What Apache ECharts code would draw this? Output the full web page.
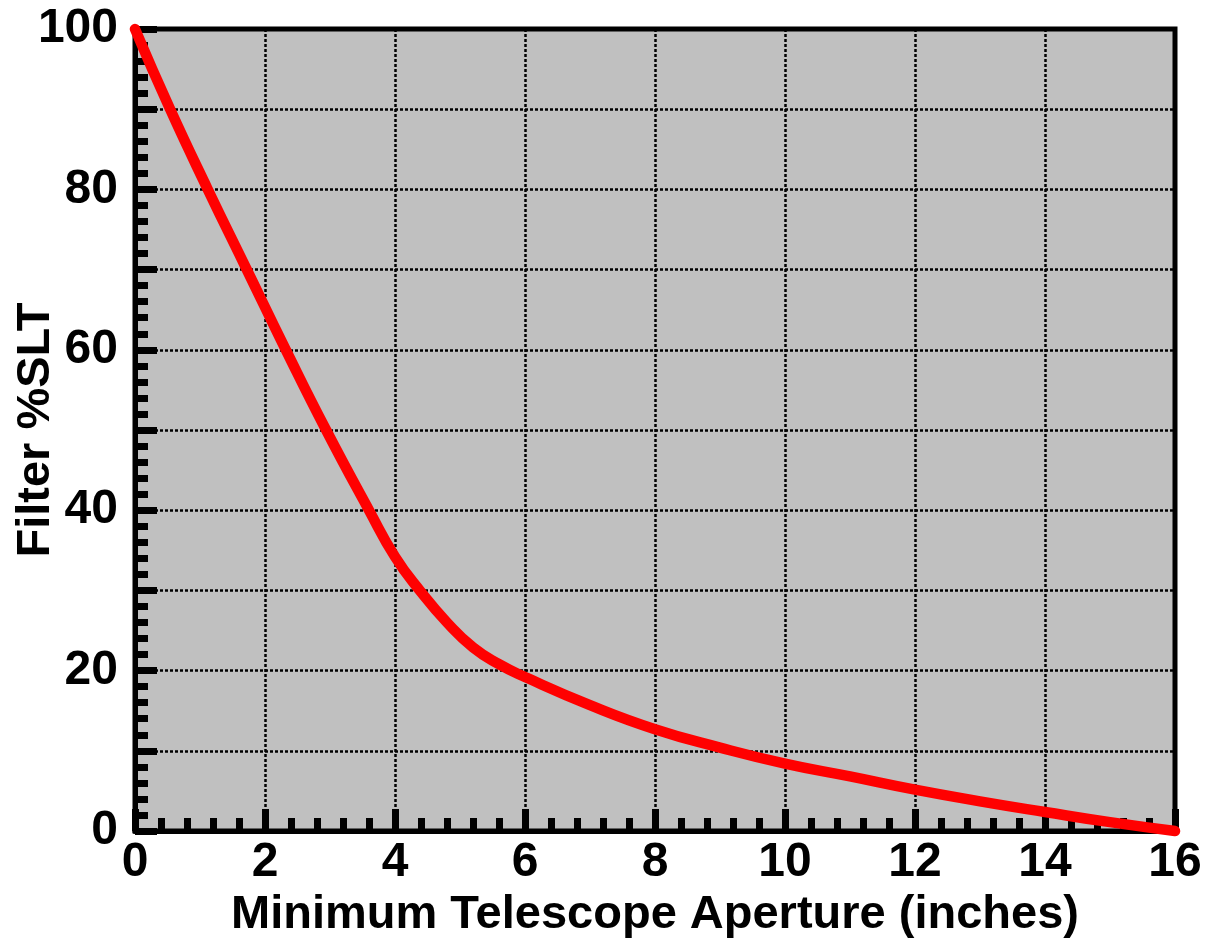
<!DOCTYPE html>
<html>
<head>
<meta charset="utf-8">
<script src="https://cdn.jsdelivr.net/npm/echarts@6/dist/echarts.min.js"></script>
<style>
html,body{margin:0;padding:0;background:#fff;}
#chart{width:1214px;height:940px;}
</style>
</head>
<body>
<div id="chart"></div>
<script>
// Data
const apertureInches = [0, 0.54, 1.12, 1.72, 2.32, 2.94, 3.6, 4.0, 4.4, 4.8, 5.2, 5.6, 6, 7, 8, 9, 10, 11, 12, 13, 14, 15, 16];
const filterSLT = [100, 90, 80, 70, 60, 50, 40, 34.2, 29.8, 26.0, 22.9, 20.8, 19.2, 15.7, 12.7, 10.4, 8.4, 6.8, 5.15, 3.7, 2.37, 1.1, 0];
const xAxisTitle = 'Minimum Telescope Aperture (inches)';
const yAxisTitle = 'Filter %SLT';

const seriesData = apertureInches.map((x, i) => [x, filterSLT[i]]);

const fontFamily = '"Liberation Sans", Arial, sans-serif';
const gridLine = { show: true, lineStyle: { color: '#000', width: 2.5, type: [3, 2] } };
const majorTick = { show: true, inside: true, length: 22, lineStyle: { color: '#000', width: 7 } };
const minorTick = { show: true, splitNumber: 5, length: 13, lineStyle: { color: '#000', width: 7 } };

const chart = echarts.init(document.getElementById('chart'), null, { renderer: 'canvas' });
chart.setOption({
  animation: false,
  backgroundColor: '#ffffff',
  grid: {
    left: 135, right: 39, top: 29, bottom: 109,
    containLabel: false, outerBoundsMode: 'none',
    show: true, backgroundColor: '#c0c0c0', borderColor: '#000', borderWidth: 5
  },
  xAxis: {
    type: 'value', min: 0, max: 16, interval: 2,
    name: xAxisTitle, nameLocation: 'middle', nameGap: 56,
    nameTextStyle: { fontFamily, fontWeight: 'bold', fontSize: 47, color: '#000' },
    axisLine: { show: true, onZero: false, lineStyle: { color: '#000', width: 5 } },
    axisTick: majorTick,
    minorTick: minorTick,
    axisLabel: { fontFamily, fontWeight: 'bold', fontSize: 48, color: '#000', margin: 8 },
    splitLine: gridLine
  },
  yAxis: {
    type: 'value', min: 0, max: 100, interval: 10,
    name: yAxisTitle, nameLocation: 'middle', nameGap: 75, nameRotate: 90, nameMoveOverlap: false,
    nameTextStyle: { fontFamily, fontWeight: 'bold', fontSize: 47, color: '#000' },
    axisLine: { show: true, onZero: false, lineStyle: { color: '#000', width: 5 } },
    axisTick: majorTick,
    minorTick: minorTick,
    axisLabel: {
      fontFamily, fontWeight: 'bold', fontSize: 48, color: '#000', margin: 17,
      formatter: v => (v % 20 === 0 ? String(v) : '')
    },
    splitLine: gridLine
  },
  series: [{
    type: 'line',
    data: seriesData,
    smooth: 0.5,
    showSymbol: false,
    symbol: 'none',
    clip: false,
    lineStyle: { color: '#ff0000', width: 10.5, cap: 'round', join: 'round' },
    z: 5
  }]
});
</script>
</body>
</html>
